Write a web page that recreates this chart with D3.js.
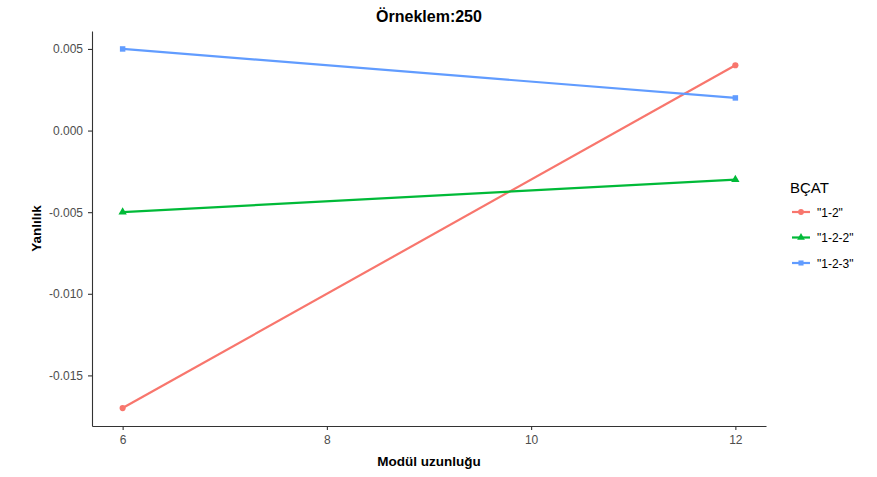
<!DOCTYPE html>
<html>
<head>
<meta charset="utf-8">
<script src="https://cdn.jsdelivr.net/npm/d3@7"></script>
<style>
  body { margin: 0; background: #fff; }
  svg { display: block; font-family: "Liberation Sans", Arial, sans-serif; }
</style>
</head>
<body>
<svg id="chart" width="877" height="477"></svg>
<script>
// Module lengths on the x axis
const moduleLengths = [6, 12];
// Bias per group
const groups = ['"1-2"', '"1-2-2"', '"1-2-3"'];
const bias12  = [-0.017, 0.004];
const bias122 = [-0.005, -0.003];
const bias123 = [0.005, 0.002];
const xTicks = [6, 8, 10, 12];
const yTicks = [0.005, 0.000, -0.005, -0.010, -0.015];
const colors = ["#F8766D", "#00BA38", "#619CFF"];
const shapes = [d3.symbolCircle, d3.symbolTriangle, d3.symbolSquare];

const seriesValues = [bias12, bias122, bias123];
const series = groups.map((g, i) => ({
  name: g,
  color: colors[i],
  shape: shapes[i],
  points: moduleLengths.map((x, j) => ({ x, y: seriesValues[i][j] }))
}));

const svg = d3.select("#chart");
const plot = { left: 92, right: 766, top: 31, bottom: 426 };

// ggplot-style expansion (5% on each side)
const xExt = d3.extent(moduleLengths);
const xPad = (xExt[1] - xExt[0]) * 0.05;
const allY = seriesValues.flat();
const yExt = d3.extent(allY);
const yPad = (yExt[1] - yExt[0]) * 0.05;

const x = d3.scaleLinear().domain([xExt[0] - xPad, xExt[1] + xPad]).range([plot.left, plot.right]);
const y = d3.scaleLinear().domain([yExt[0] - yPad, yExt[1] + yPad]).range([plot.bottom, plot.top]);

// Tick labels use a plain hyphen for negatives
const fmtY = d => d3.format(".3f")(d).replace("\u2212", "-");

// Axes
const xAxis = svg.append("g")
  .attr("transform", `translate(0,${plot.bottom})`)
  .call(d3.axisBottom(x).tickValues(xTicks).tickFormat(d3.format("d")).tickSize(4).tickPadding(5).tickSizeOuter(0));
const yAxis = svg.append("g")
  .attr("transform", `translate(${plot.left},0)`)
  .call(d3.axisLeft(y).tickValues(yTicks).tickFormat(fmtY).tickSize(4).tickPadding(5).tickSizeOuter(0));

[xAxis, yAxis].forEach(a => {
  a.select(".domain").attr("stroke", "#333").attr("stroke-width", 1.1);
  a.selectAll(".tick line").attr("stroke", "#333").attr("stroke-width", 1.1);
  a.selectAll(".tick text").attr("fill", "#4d4d4d").attr("font-size", 12)
    .attr("font-family", "Liberation Sans, Arial, sans-serif");
});

// Lines and points
const line = d3.line().x(d => x(d.x)).y(d => y(d.y));
series.forEach(s => {
  svg.append("path")
    .datum(s.points)
    .attr("d", line)
    .attr("fill", "none")
    .attr("stroke", s.color)
    .attr("stroke-width", 2.2);
  svg.selectAll(null)
    .data(s.points)
    .join("path")
    .attr("d", d3.symbol().type(s.shape).size(30))
    .attr("transform", d => `translate(${x(d.x)},${y(d.y)})`)
    .attr("fill", s.color);
});

// Title and axis titles
svg.append("text")
  .attr("x", (plot.left + plot.right) / 2).attr("y", 22)
  .attr("text-anchor", "middle").attr("font-size", 16).attr("font-weight", "bold")
  .attr("fill", "#000")
  .text("Örneklem:250");

svg.append("text")
  .attr("x", (plot.left + plot.right) / 2).attr("y", 466)
  .attr("text-anchor", "middle").attr("font-size", 13.5).attr("font-weight", "bold")
  .attr("fill", "#000")
  .text("Modül uzunluğu");

svg.append("text")
  .attr("transform", `translate(41,${(plot.top + plot.bottom) / 2}) rotate(-90)`)
  .attr("text-anchor", "middle").attr("font-size", 13.5).attr("font-weight", "bold")
  .attr("fill", "#000")
  .text("Yanlılık");

// Legend
const legend = svg.append("g").attr("transform", "translate(790,0)");
legend.append("text")
  .attr("x", 0).attr("y", 193)
  .attr("font-size", 15).attr("fill", "#000")
  .text("BÇAT");
series.forEach((s, i) => {
  const ly = 212 + i * 25.5;
  legend.append("line")
    .attr("x1", 2).attr("x2", 20).attr("y1", ly).attr("y2", ly)
    .attr("stroke", s.color).attr("stroke-width", 2.2);
  legend.append("path")
    .attr("d", d3.symbol().type(s.shape).size(26))
    .attr("transform", `translate(11,${ly})`)
    .attr("fill", s.color);
  legend.append("text")
    .attr("x", 27).attr("y", ly + 4.5)
    .attr("font-size", 12).attr("fill", "#000")
    .text(s.name);
});
</script>
</body>
</html>
